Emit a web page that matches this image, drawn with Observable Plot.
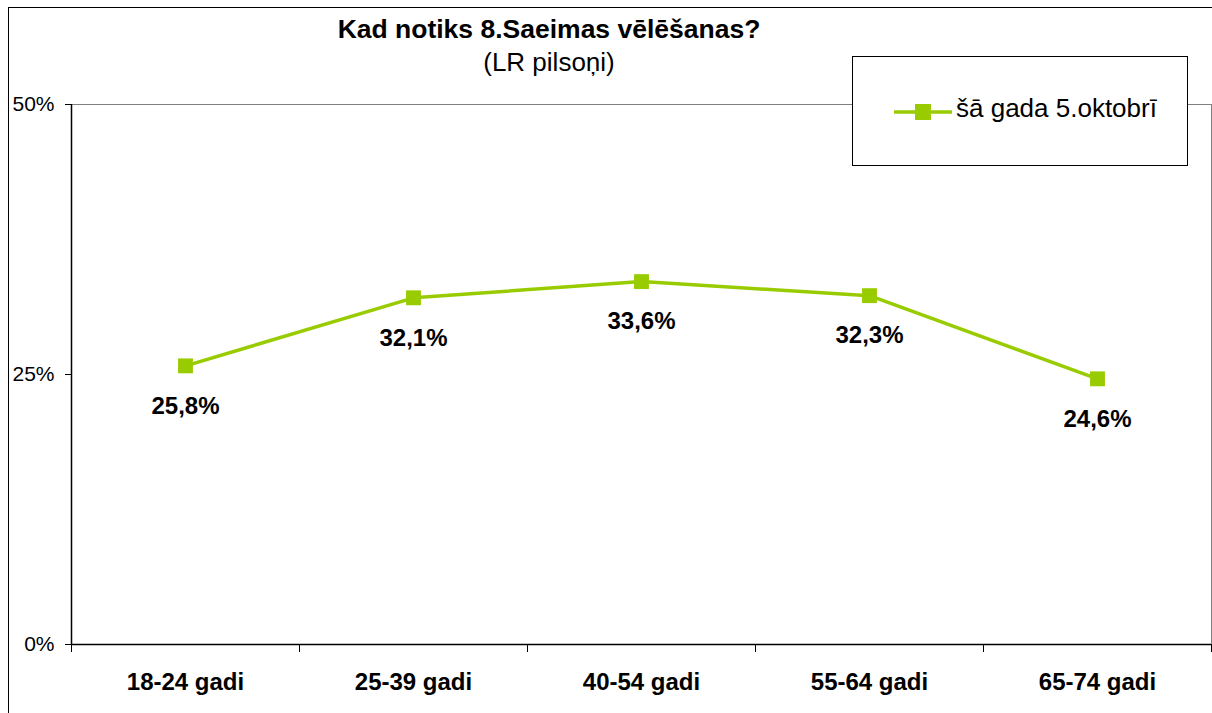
<!DOCTYPE html>
<html><head><meta charset="utf-8">
<script src="https://cdn.jsdelivr.net/npm/d3@7"></script>
<script src="https://cdn.jsdelivr.net/npm/@observablehq/plot@0.6"></script>
<style>
body{margin:0;background:#fff;font-family:"Liberation Sans",Arial,sans-serif;}
#wrap{position:relative;width:1212px;height:713px;overflow:hidden;background:#fff;}
#border{position:absolute;left:8px;top:7px;width:1230px;height:730px;border:1px solid #000;}
#chart{position:absolute;left:0;top:0;}
.t{position:absolute;left:0;width:1098px;text-align:center;font-size:26px;line-height:26px;white-space:nowrap;color:#000;}
#title{top:16px;font-weight:bold;font-size:26.5px;}
#subtitle{top:49px;}
#legend{position:absolute;left:852px;top:56px;width:334px;height:108px;border:1px solid #000;background:#fff;}
#legtext{position:absolute;left:103px;top:38px;font-size:26px;line-height:26px;white-space:nowrap;}
#legsym{position:absolute;left:40px;top:45px;}
</style>
</head><body>
<div id="wrap">
  <div id="border"></div>
  <div id="chart"></div>
  <div id="title" class="t"></div>
  <div id="subtitle" class="t"></div>
  <div id="legend">
    <svg id="legsym" width="62" height="20"><line x1="1" y1="10" x2="59" y2="10" stroke="#99CC00" stroke-width="3.5"/><rect x="22" y="2" width="16" height="16" fill="#99CC00"/></svg>
    <div id="legtext"></div>
  </div>
</div>
<script>
const titleText = "Kad notiks 8.Saeimas vēlēšanas?";
const subtitleText = "(LR pilsoņi)";
const seriesName = "šā gada 5.oktobrī";
const categories = ["18-24 gadi", "25-39 gadi", "40-54 gadi", "55-64 gadi", "65-74 gadi"];
const values = [25.8, 32.1, 33.6, 32.3, 24.6];
const yTicks = [0, 25, 50];
const color = "#99CC00";

document.getElementById("title").textContent = titleText;
document.getElementById("subtitle").textContent = subtitleText;
document.getElementById("legtext").textContent = seriesName;

const data = categories.map((c, i) => ({i, c, v: values[i]}));
const boundaries = d3.range(categories.length + 1);
const centers = data.map(d => d.i + 0.5);

const chart = Plot.plot({
  width: 1212, height: 713,
  marginLeft: 71, marginRight: 1, marginTop: 104, marginBottom: 69,
  style: {fontFamily: "'Liberation Sans', Arial, sans-serif", background: "transparent", color: "#000"},
  x: {type: "linear", domain: [0, categories.length]},
  y: {domain: [0, 50]},
  marks: [
    Plot.frame({stroke: "#808080"}),
    Plot.ruleX([0], {stroke: "#000", strokeWidth: 1.5}),
    Plot.ruleY([0], {stroke: "#000", strokeWidth: 1.5}),
    Plot.axisY({ticks: yTicks, tickFormat: d => d + "%", tickSize: 6, tickPadding: 11, fontSize: 21, label: null}),
    Plot.axisX({ticks: boundaries, tickSize: 8, tickFormat: () => "", label: null}),
    Plot.axisX({ticks: centers, tickSize: 0, tickPadding: 28, tickFormat: d => categories[Math.floor(d)], fontSize: 24, fontWeight: "bold", label: null}),
    Plot.line(data, {x: d => d.i + 0.5, y: "v", stroke: color, strokeWidth: 3.5}),
    Plot.dot(data, {x: d => d.i + 0.5, y: "v", symbol: "square", r: 8.4, fill: color, stroke: "none"}),
    Plot.text(data, {x: d => d.i + 0.5, y: "v", text: d => d.v.toFixed(1).replace(".", ",") + "%", dy: 40, fontSize: 24, fontWeight: "bold", fill: "#000"})
  ]
});
document.getElementById("chart").appendChild(chart);
</script>
</body></html>
